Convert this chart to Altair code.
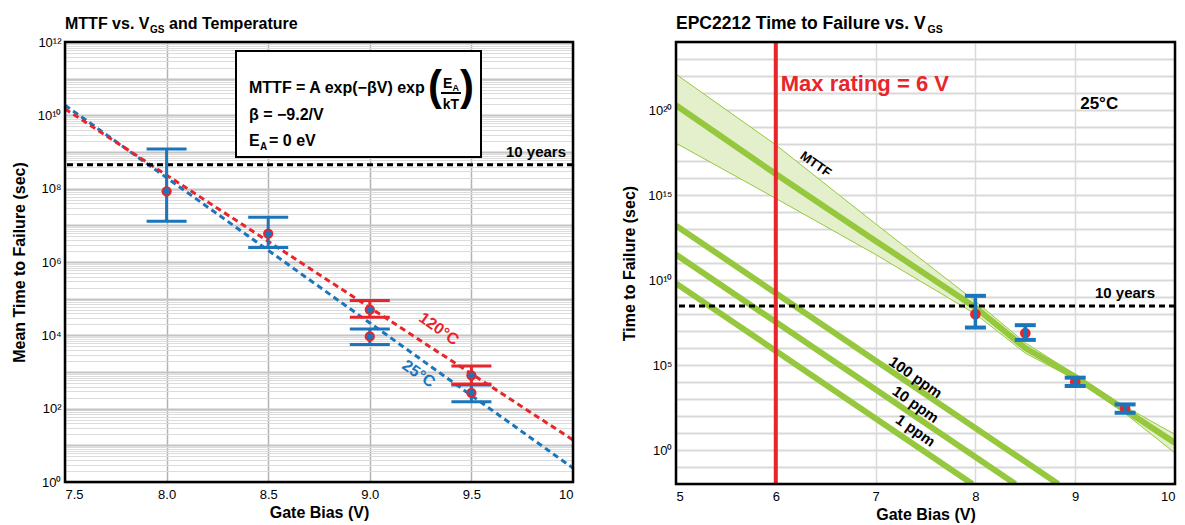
import altair as alt
import pandas as pd

FONT = "Liberation Sans, Arial, sans-serif"
RED = "#e8252b"
BLUE = "#1b75bb"
GREEN = "#96c83e"
BAND_FILL = "#e4f0cc"

# ---------------- left panel data ----------------
left_gate_25 = [8.0, 8.5, 9.0, 9.5]
left_mttf_25 = [8.5e7, 5.9e6, 9.3e3, 2.7e2]
left_hi_25 = [1.2e9, 1.66e7, 1.5e4, 4.4e2]
left_lo_25 = [1.3e7, 2.5e6, 5.6e3, 1.55e2]

left_gate_120 = [9.0, 9.5]
left_mttf_120 = [5.0e4, 8.1e2]
left_hi_120 = [8.9e4, 1.45e3]
left_lo_120 = [3.1e4, 4.7e2]

fit_gate = [7.5, 10.0]
fit_120 = [1.5e10, 14.0]
fit_25 = [1.9e10, 2.4]
ten_years_left = [4.5e8]

left_x_ticks = [7.5, 8.0, 8.5, 9.0, 9.5, 10.0]
left_decades = [0, 2, 4, 6, 8, 10, 12]
left_decade_labels = ["10⁰", "10²", "10⁴", "10⁶", "10⁸", "10¹⁰", "10¹²"]

note_left_text = ["120°C", "25°C"]
note_left_x = [9.34, 9.24]
note_left_y = [1.5e4, 8.9e2]

# ---------------- right panel data ----------------
right_gate = [8.0, 8.5, 9.0, 9.5]
right_ttf = [9.8e7, 7.4e6, 1.0e4, 2.75e2]
right_hi = [1.17e9, 2.2e7, 1.8e4, 4.8e2]
right_lo = [1.6e7, 3.0e6, 5.8e3, 1.55e2]

band_gate = [5.0, 6.0, 7.0, 8.0, 8.5, 9.0, 9.5, 10.0]
band_hi = [1.26e22, 8.9e17, 2.0e13, 5.6e8, 2.0e6, 2.8e4, 355.0, 8.3]
band_lo = [1.12e18, 6.3e14, 3.16e11, 1.0e8, 5.0e5, 1.4e4, 141.0, 0.66]
band_mid = [1.9e20, 1.7e16, 2.0e12, 2.4e8, 1.0e6, 2.0e4, 224.0, 2.6]

ppm_names = ["1 ppm", "1 ppm", "10 ppm", "10 ppm", "100 ppm", "100 ppm"]
ppm_gate = [5.0, 7.97, 5.0, 8.40, 5.0, 8.83]
ppm_ttf = [6.3e9, 1e-2, 3.16e11, 1e-2, 1.58e13, 1e-2]

max_rating = [6.0]
ten_years_right = [3.0e8]

right_x_ticks = [5, 6, 7, 8, 9, 10]
right_decades = [0, 5, 10, 15, 20]
right_decade_labels = ["10⁰", "10⁵", "10¹⁰", "10¹⁵", "10²⁰"]

ppm_label_text = ["100 ppm", "10 ppm", "1 ppm"]
ppm_label_x = [7.40, 7.40, 7.40]
ppm_label_y = [1.9e4, 4.8e2, 14.0]

# ---------------- sizes ----------------
LW, LH = 508, 440
RW, RH = 499, 442

one = pd.DataFrame({"k": [0]})


def ptext(txt, x, y, size, color="black", weight="bold", align="left", angle=0):
    return alt.Chart(one).mark_text(
        text=txt, font=FONT, fontSize=size, fontWeight=weight, color=color,
        align=align, baseline="alphabetic", angle=angle
    ).encode(x=alt.value(x), y=alt.value(y))


def border(w, h):
    return alt.Chart(one).mark_rect(fillOpacity=0, stroke="black", strokeWidth=2.5).encode(
        x=alt.value(0), x2=alt.value(w), y=alt.value(0), y2=alt.value(h))


major_test = "abs(log(datum.value)/LN10 - round(log(datum.value)/LN10)) < 0.001"

# ---------------- left axes ----------------
lx_scale = alt.Scale(domain=[7.5, 10], nice=False, zero=False)
lx_axis = alt.Axis(values=left_x_ticks, title="Gate Bias (V)",
                   labelExpr="datum.value == 10 ? '10' : format(datum.value, '.1f')",
                   gridColor="#b3b3b3", gridWidth=1.5)
ly_scale = alt.Scale(type="log", domain=[1, 1e12], nice=False)
left_grid_vals = [m * 10 ** e for e in range(0, 12) for m in range(1, 10)] + [10 ** 12]
ly_expr = " : ".join(f"datum.value == {10 ** e} ? '{s}'" for e, s in zip(left_decades, left_decade_labels)) + " : ''"
ly_axis = alt.Axis(values=left_grid_vals, labelExpr=ly_expr, title="Mean Time to Failure (sec)",
                   gridColor={"condition": {"test": major_test, "value": "#c4c4c4"}, "value": "#dcdcdc"},
                   gridWidth={"condition": {"test": major_test, "value": 2}, "value": 1},
                   labelOverlap=False)


def LX(f):
    return alt.X(f, type="quantitative", scale=lx_scale, axis=lx_axis)


def LY(f):
    return alt.Y(f, type="quantitative", scale=ly_scale, axis=ly_axis)


d25 = pd.DataFrame({"x": left_gate_25, "y": left_mttf_25, "hi": left_hi_25, "lo": left_lo_25})
d120 = pd.DataFrame({"x": left_gate_120, "y": left_mttf_120, "hi": left_hi_120, "lo": left_lo_120})
dpts = pd.concat([d25, d120])
dfit120 = pd.DataFrame({"x": fit_gate, "y": fit_120})
dfit25 = pd.DataFrame({"x": fit_gate, "y": fit_25})
dten_l = pd.DataFrame({"y": ten_years_left})

left_layers = [
    # formula box
    alt.Chart(one).mark_rect(fill="white", stroke="black", strokeWidth=2).encode(
        x=alt.value(171), x2=alt.value(416), y=alt.value(9), y2=alt.value(115)),
    alt.Chart(dfit25).mark_line(color=BLUE, strokeWidth=3, strokeDash=[6, 4], clip=True).encode(x=LX("x"), y=LY("y")),
    alt.Chart(dfit120).mark_line(color=RED, strokeWidth=3, strokeDash=[6, 4], clip=True).encode(x=LX("x"), y=LY("y")),
    alt.Chart(dten_l).mark_rule(color="black", strokeWidth=3, strokeDash=[6, 4]).encode(y=LY("y")),
]
for df, col in [(d25, BLUE), (d120, RED)]:
    left_layers += [
        alt.Chart(df).mark_rule(color=col, strokeWidth=3).encode(x=LX("x"), y=LY("lo"), y2="hi"),
        alt.Chart(df).mark_tick(color=col, orient="horizontal", size=40, thickness=3, opacity=1).encode(x=LX("x"), y=LY("hi")),
        alt.Chart(df).mark_tick(color=col, orient="horizontal", size=40, thickness=3, opacity=1).encode(x=LX("x"), y=LY("lo")),
    ]
left_layers += [
    alt.Chart(dpts).mark_circle(color=RED, size=105, opacity=1).encode(x=LX("x"), y=LY("y")),
    alt.Chart(dpts).mark_circle(color=BLUE, size=40, opacity=1).encode(x=LX("x"), y=LY("y")),
    alt.Chart(dten_l).mark_text(text="10 years", font=FONT, fontSize=15, fontWeight="bold", align="right",
                                baseline="alphabetic", dy=-8).encode(x=alt.value(LW - 7), y=LY("y")),
]
for t, xx, yy, col in zip(note_left_text, note_left_x, note_left_y, [RED, BLUE]):
    left_layers.append(
        alt.Chart(pd.DataFrame({"x": [xx], "y": [yy], "t": [t]})).mark_text(
            font=FONT, fontSize=16, fontWeight="bold", color=col, angle=35, baseline="middle"
        ).encode(x=LX("x"), y=LY("y"), text="t:N"))
left_layers += [
    # formula text
    ptext("MTTF = A exp(−βV) exp", 184, 51, 16),
    ptext("(", 370, 58, 42, align="center"),
    ptext("E", 378, 45.5, 14),
    ptext("A", 387.5, 49, 9),
    alt.Chart(one).mark_rule(color="black", strokeWidth=2).encode(
        x=alt.value(376), x2=alt.value(396), y=alt.value(51)),
    ptext("kT", 386, 66.5, 14, align="center"),
    ptext(")", 402, 58, 42, align="center"),
    ptext("β = −9.2/V", 184, 77.5, 16),
    ptext("E", 184, 104, 16),
    ptext("A", 195, 107.5, 10),
    ptext("= 0 eV", 204, 104, 16),
    # title
    ptext("MTTF vs. V", 0, -13, 16),
    ptext("GS", 85, -9.5, 10),
    ptext("and Temperature", 104, -13, 16),
    border(LW, LH),
]
left = alt.layer(*left_layers).properties(width=LW, height=LH)

# ---------------- right axes ----------------
rx_scale = alt.Scale(domain=[5, 10], nice=False, zero=False)
rx_axis = alt.Axis(values=right_x_ticks, title="Gate Bias (V)", format="d",
                   gridColor="#d9d9d9", gridWidth=1.5)
ry_scale = alt.Scale(type="log", domain=[1e-2, 1e24], nice=False)
right_grid_vals = [10.0 ** e for e in range(-2, 25)]
ry_expr = " : ".join(f"abs(log(datum.value)/LN10 - {e}) < 0.001 ? '{s}'" for e, s in zip(right_decades, right_decade_labels)) + " : ''"
ry_axis = alt.Axis(values=right_grid_vals, labelExpr=ry_expr, title="Time to Failure (sec)",
                   gridColor="#d9d9d9", gridWidth=2, labelOverlap=False)


def RX(f):
    return alt.X(f, type="quantitative", scale=rx_scale, axis=rx_axis)


def RY(f):
    return alt.Y(f, type="quantitative", scale=ry_scale, axis=ry_axis)


dband = pd.DataFrame({"x": band_gate, "y": band_mid, "hi": band_hi, "lo": band_lo})
dppm = pd.DataFrame({"x": ppm_gate, "y": ppm_ttf, "s": ppm_names})
dr = pd.DataFrame({"x": right_gate, "y": right_ttf, "hi": right_hi, "lo": right_lo})
dten_r = pd.DataFrame({"y": ten_years_right})
dmax = pd.DataFrame({"x": max_rating})

right_layers = [
    alt.Chart(dband).mark_area(color=BAND_FILL, opacity=1, clip=True).encode(x=RX("x"), y=RY("lo"), y2="hi"),
    alt.Chart(dband).mark_line(color=GREEN, strokeWidth=1, clip=True).encode(x=RX("x"), y=RY("hi")),
    alt.Chart(dband).mark_line(color=GREEN, strokeWidth=1, clip=True).encode(x=RX("x"), y=RY("lo")),
    alt.Chart(dband).mark_line(color=GREEN, strokeWidth=6, clip=True).encode(x=RX("x"), y=RY("y")),
    alt.Chart(dppm).mark_line(color=GREEN, strokeWidth=6, clip=True).encode(x=RX("x"), y=RY("y"), detail="s:N"),
    alt.Chart(dten_r).mark_rule(color="black", strokeWidth=3, strokeDash=[6, 4]).encode(y=RY("y")),
    alt.Chart(dmax).mark_rule(color=RED, strokeWidth=4).encode(x=RX("x")),
    alt.Chart(dr).mark_circle(color=RED, size=115, opacity=1).encode(x=RX("x"), y=RY("y")),
    alt.Chart(dr).mark_rule(color=BLUE, strokeWidth=3.5).encode(x=RX("x"), y=RY("lo"), y2="hi"),
    alt.Chart(dr).mark_tick(color=BLUE, orient="horizontal", size=21, thickness=4, opacity=1).encode(x=RX("x"), y=RY("hi")),
    alt.Chart(dr).mark_tick(color=BLUE, orient="horizontal", size=21, thickness=4, opacity=1).encode(x=RX("x"), y=RY("lo")),
    alt.Chart(dten_r).mark_text(text="10 years", font=FONT, fontSize=15, fontWeight="bold", align="right",
                                baseline="alphabetic", dy=-8).encode(x=alt.value(RW - 20), y=RY("y")),
    alt.Chart(pd.DataFrame({"x": [6.05], "y": [1.26e21]})).mark_text(
        text="Max rating = 6 V", font=FONT, fontSize=22, fontWeight="bold", color=RED,
        align="left", baseline="alphabetic").encode(x=RX("x"), y=RY("y")),
    alt.Chart(pd.DataFrame({"x": [9.05], "y": [1.1e20]})).mark_text(
        text="25°C", font=FONT, fontSize=17, fontWeight="bold", align="left",
        baseline="alphabetic").encode(x=RX("x"), y=RY("y")),
    alt.Chart(pd.DataFrame({"x": [6.40], "y": [6.3e16]})).mark_text(
        text="MTTF", font=FONT, fontSize=13, fontWeight="bold", angle=35,
        baseline="middle").encode(x=RX("x"), y=RY("y")),
    alt.Chart(pd.DataFrame({"x": ppm_label_x, "y": ppm_label_y, "t": ppm_label_text})).mark_text(
        font=FONT, fontSize=15, fontWeight="bold", angle=35, baseline="middle"
    ).encode(x=RX("x"), y=RY("y"), text="t:N"),
    ptext("EPC2212 Time to Failure vs. V", 0, -13, 17.5),
    ptext("GS", 251.5, -9.5, 10.5),
    border(RW, RH),
]
right = alt.layer(*right_layers).properties(width=RW, height=RH)

chart = alt.hconcat(left, right, spacing=103, bounds="flush").configure(
    padding={"left": 10, "top": 14, "right": 2, "bottom": 2}, font=FONT
).configure_axis(
    labelFont=FONT, titleFont=FONT, labelFontSize=13, titleFontSize=16, titleFontWeight="bold",
    labelColor="black", titleColor="black", ticks=False, domain=False
).configure_axisX(labelPadding=6, titlePadding=3).configure_axisY(labelPadding=4, titlePadding=10).configure_view(
    stroke="transparent")

chart.save("out.html", embed_options={"renderer": "svg", "actions": False})
